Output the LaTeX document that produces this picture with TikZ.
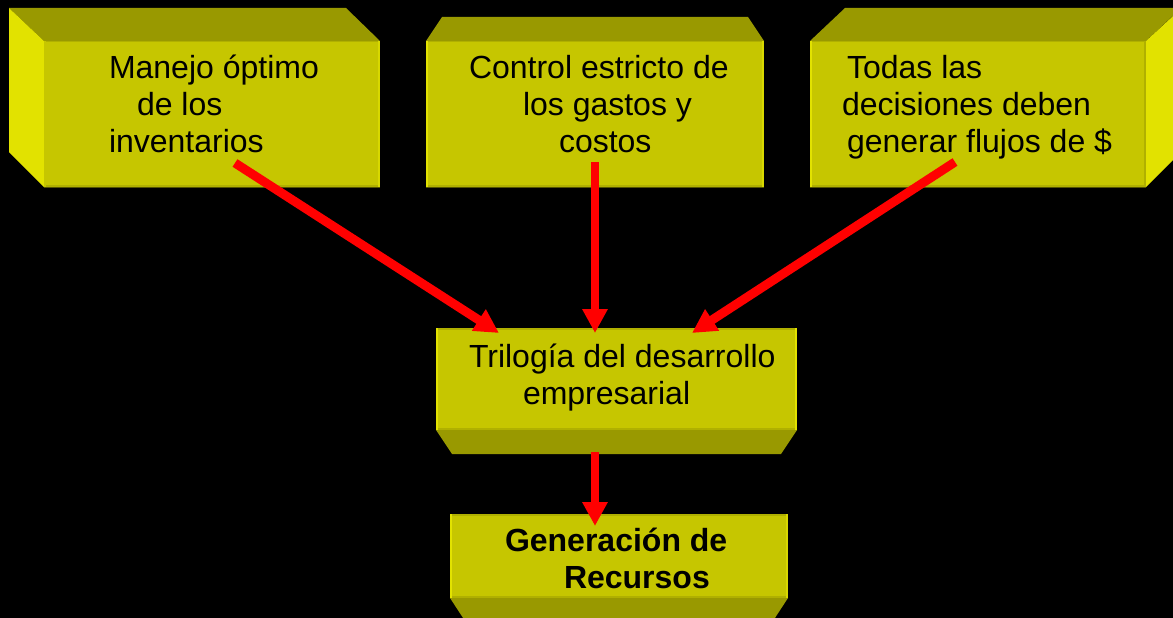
\documentclass[tikz,border=0pt]{standalone}
\usepackage{fontspec}
\setmainfont{Liberation Sans}
\usetikzlibrary{arrows.meta}
\definecolor{frontc}{HTML}{C6C600}
\definecolor{topc}{HTML}{999900}
\definecolor{sidec}{HTML}{E2E200}
\definecolor{edgedark}{HTML}{B0B000}
\definecolor{edgelight}{HTML}{D8D800}
\definecolor{arrowc}{HTML}{FF0000}
\newcommand{\topstrut}{\rule{0pt}{26pt}}
\tikzset{
  left strip/.store in=\leftstrip, left strip=sidec,
  right strip/.store in=\rightstrip, right strip=edgelight,
  frontface/.style={rectangle,inner sep=0pt,outer sep=0pt,anchor=north west,fill=frontc,
    path picture={
      \fill[edgedark] (path picture bounding box.north west) rectangle ([yshift=-1.5pt]path picture bounding box.north east);
      \fill[edgedark] (path picture bounding box.south west) rectangle ([yshift=2.5pt]path picture bounding box.south east);
      \fill[\leftstrip] (path picture bounding box.south west) rectangle ([xshift=2pt]path picture bounding box.north west);
      \fill[\rightstrip] (path picture bounding box.south east) rectangle ([xshift=-2pt]path picture bounding box.north east);
    }},
  topface/.style={fill=topc},
  sideface/.style={fill=sidec},
  bottomline/.style={draw=topc!55!black,line width=1pt},
  label/.style={inner sep=0pt,outer sep=0pt,anchor=north west,align=left,text=black,
    font=\fontsize{32}{37}\selectfont},
  boldlabel/.style={label,font=\fontsize{32}{37}\selectfont\bfseries},
  flow/.style={draw=arrowc,line width=8pt,-{Triangle[length=24pt,width=24pt,fill=arrowc]}},
  slantflow/.style={flow,line width=9pt}
}
\begin{document}
\begin{tikzpicture}[x=1pt,y=-1pt]
\useasboundingbox (0,0) rectangle (1173,618);
\fill[black] (0,0) rectangle (1173,618);
\clip (0,0) rectangle (1173,618);

% box 1
\fill[topface] (44,41) -- (9,8) -- (346,8) -- (380,41) -- cycle;
\fill[sideface] (44,41) -- (9,8) -- (9,152) -- (44,187) -- cycle;
\node[frontface,left strip=frontc,minimum width=336pt,minimum height=146pt] (f1) at (44,41) {};
\draw[bottomline] (f1.south west) -- (f1.south east);

% box 2
\fill[topface] (426,41) -- (442,17) -- (748,17) -- (764,41) -- cycle;
\node[frontface,minimum width=338pt,minimum height=146pt] (f2) at (426,41) {};
\draw[bottomline] (f2.south west) -- (f2.south east);

% box 3
\fill[topface] (810,41) -- (845,8) -- (1181,8) -- (1146,41) -- cycle;
\fill[sideface] (1146,41) -- (1173,16) -- (1173,160) -- (1146,187) -- cycle;
\node[frontface,right strip=edgedark,minimum width=336pt,minimum height=146pt] (f3) at (810,41) {};
\draw[bottomline] (f3.south west) -- (f3.south east);

% box 4
\fill[topface] (436,430) -- (797,430) -- (781,454) -- (452,454) -- cycle;
\node[frontface,right strip=sidec,minimum width=361pt,minimum height=102pt] (f4) at (436,328) {};

% box 5
\fill[topface] (450,598) -- (788,598) -- (771,624) -- (467,624) -- cycle;
\node[frontface,minimum width=338pt,minimum height=84pt] (f5) at (450,514) {};

% labels
\node[label] (t1) at (109,52) {\topstrut Manejo óptimo\\\hspace*{28pt}de los\\inventarios};
\node[label] (t2) at (469,52) {\topstrut Control estricto de\\\hspace*{54pt}los gastos y\\\hspace*{90pt}costos};
\node[label] (t3) at (842,52) {\topstrut\hspace*{5pt}Todas las\\decisiones deben\\\hspace*{5pt}generar flujos de \$};
\node[label] (t4) at (469,341) {\topstrut Trilogía del desarrollo\\\hspace*{54pt}empresarial};
\node[boldlabel] (t5) at (505,525) {\topstrut Generación de\\\hspace*{59pt}Recursos};

% connectors
\draw[slantflow] ([xshift=191pt,yshift=-122pt]f1.north west) -- ([xshift=63pt,yshift=-5pt]f4.north west);
\draw[flow] ([xshift=169pt,yshift=-121pt]f2.north west) -- ([xshift=159pt,yshift=-5pt]f4.north west);
\draw[slantflow] ([xshift=145pt,yshift=-121pt]f3.north west) -- ([xshift=256pt,yshift=-5pt]f4.north west);
\draw[flow] ([xshift=159pt,yshift=-22pt]f4.south west) -- ([xshift=145pt,yshift=-12pt]f5.north west);
\end{tikzpicture}
\end{document}
